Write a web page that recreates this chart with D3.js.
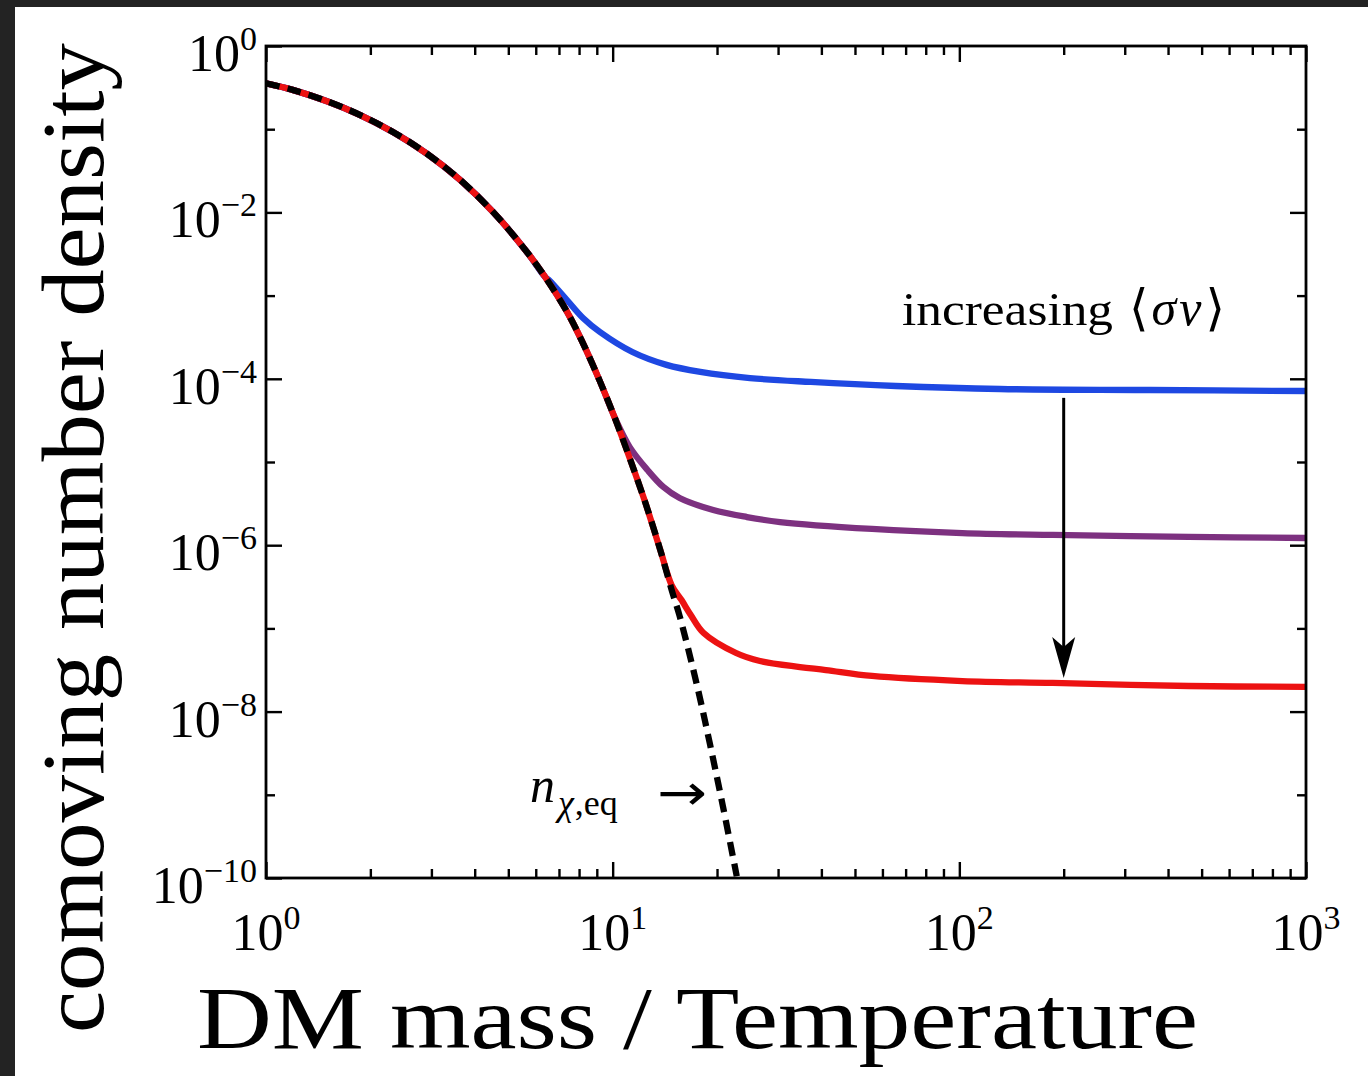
<!DOCTYPE html>
<html>
<head>
<meta charset="utf-8">
<script src="https://cdn.jsdelivr.net/npm/d3@7"></script>
<style>
  body { margin: 0; background: #ffffff; }
  svg { display: block; }
</style>
</head>
<body>
<svg id="chart" width="1368" height="1076"></svg>
<script>
// Equilibrium comoving number density n_eq versus m/T
const eqX = [1.00, 1.20, 1.50, 1.87, 2.33, 2.91, 3.63, 4.53, 5.65, 6.38, 7.38, 8.15, 9.19,
             10.15, 11.2, 12.4, 13.7, 14.8, 15.6, 17.5, 19.1, 20.8, 22.8];
const eqY = [0.356, 0.295, 0.217, 0.148, 0.0920, 0.0509, 0.0246, 0.0100, 0.00337, 1.68e-3,
             6.41e-4, 2.85e-4, 9.31e-5, 3.36e-5, 1.11e-5, 3.32e-6, 8.93e-7, 2.88e-7, 1.41e-7,
             2.09e-8, 4.0e-9, 7.26e-10, 1.05e-10];

// Freeze-out branches (each follows n_eq until it leaves it)
const blueX = [6.59, 7.38, 8.21, 9.19, 11.4, 14.3, 17.9, 24.9, 37.3, 65.6, 131, 355, 1000];
const blueY = [1.50e-3, 8.85e-4, 5.38e-4, 3.65e-4, 2.10e-4, 1.47e-4, 1.21e-4, 1.02e-4,
               9.16e-5, 8.19e-5, 7.54e-5, 7.33e-5, 7.13e-5];

const purpleX = [10.15, 11.2, 12.6, 14.0, 15.6, 19.5, 24.4, 30.4, 56.0, 102, 186, 459, 1000];
const purpleY = [3.38e-5, 1.51e-5, 8.02e-6, 5.01e-6, 3.69e-6, 2.65e-6, 2.18e-6, 1.90e-6,
                 1.57e-6, 1.40e-6, 1.33e-6, 1.26e-6, 1.22e-6];

const redX = [14.8, 15.8, 16.8, 18.3, 22.7, 26.6, 34.7, 41.2, 56.0, 102, 186, 459, 1000];
const redY = [3.3e-7, 2.19e-7, 1.45e-7, 8.80e-8, 5.06e-8, 4.05e-8, 3.43e-8, 3.16e-8,
              2.68e-8, 2.33e-8, 2.21e-8, 2.03e-8, 1.98e-8];

// Axis ticks
const xMajorTicks = [1, 10, 100, 1000];
const xTickExponents = ["0", "1", "2", "3"];
const yLabelTicks = [1, 1e-2, 1e-4, 1e-6, 1e-8, 1e-10];
const yTickExponents = ["0", "\u22122", "\u22124", "\u22126", "\u22128", "\u221210"];
const yOddTicks = [1e-1, 1e-3, 1e-5, 1e-7, 1e-9];

// "increasing <σv>" arrow: x position and its start / end values
const arrowX = 200;
const arrowFrom = 5.9e-5;
const arrowTo = 2.53e-8;

const svg = d3.select("#chart");
const W = 1368, H = 1076;
const plotL = 266, plotR = 1306, plotT = 46, plotB = 878;

// dark frame strips on the top and left edges
svg.append("rect").attr("x", 0).attr("y", 0).attr("width", W).attr("height", 7).attr("fill", "#232323");
svg.append("rect").attr("x", 0).attr("y", 0).attr("width", 15).attr("height", H).attr("fill", "#232323");

const x = d3.scaleLog().domain([1, 1000]).range([plotL, plotR]);
const y = d3.scaleLog().domain([1e-10, 1]).range([plotB, plotT]);

const xMinorTicks = [];
[1, 10, 100].forEach(d => { for (let k = 2; k <= 9; k++) xMinorTicks.push(k * d); });

svg.append("defs").append("clipPath").attr("id", "plotClip")
  .append("rect").attr("x", plotL).attr("y", plotT).attr("width", plotR - plotL).attr("height", plotB - plotT);

// curves
const line = d3.line().x(d => x(d[0])).y(d => y(d[1])).curve(d3.curveCatmullRom.alpha(0.5));
const eqPts = eqX.map((v, i) => [v, eqY[i]]);
function branch(xs, ys) {
  const head = eqPts.filter(p => p[0] < xs[0]);
  return head.concat(xs.map((v, i) => [v, ys[i]]));
}
const curves = svg.append("g").attr("clip-path", "url(#plotClip)");
[[blueX, blueY, "#1e48e2"], [purpleX, purpleY, "#7d3180"], [redX, redY, "#ec1212"]].forEach(([xs, ys, c]) => {
  curves.append("path").datum(branch(xs, ys))
    .attr("d", line).attr("fill", "none").attr("stroke", c).attr("stroke-width", 6.3)
    .attr("stroke-linejoin", "round").attr("stroke-linecap", "butt");
});
curves.append("path").datum(eqPts)
  .attr("d", line).attr("fill", "none").attr("stroke", "#000").attr("stroke-width", 6.3)
  .attr("stroke-dasharray", "14,8");

// axes with inward ticks on all four sides
function styleAxis(g) {
  g.select(".domain").remove();
  g.selectAll(".tick line").attr("stroke", "#000").attr("stroke-width", 2.4);
  g.selectAll("text").remove();
}
const axes = svg.append("g");
axes.append("g").attr("transform", `translate(0,${plotB})`)
  .call(d3.axisBottom(x).tickValues(xMajorTicks).tickSize(-16).tickFormat("")).call(styleAxis);
axes.append("g").attr("transform", `translate(0,${plotB})`)
  .call(d3.axisBottom(x).tickValues(xMinorTicks).tickSize(-9).tickFormat("")).call(styleAxis);
axes.append("g").attr("transform", `translate(0,${plotT})`)
  .call(d3.axisTop(x).tickValues(xMajorTicks).tickSize(-16).tickFormat("")).call(styleAxis);
axes.append("g").attr("transform", `translate(0,${plotT})`)
  .call(d3.axisTop(x).tickValues(xMinorTicks).tickSize(-9).tickFormat("")).call(styleAxis);
axes.append("g").attr("transform", `translate(${plotL},0)`)
  .call(d3.axisLeft(y).tickValues(yLabelTicks).tickSize(-16).tickFormat("")).call(styleAxis);
axes.append("g").attr("transform", `translate(${plotL},0)`)
  .call(d3.axisLeft(y).tickValues(yOddTicks).tickSize(-9).tickFormat("")).call(styleAxis);
axes.append("g").attr("transform", `translate(${plotR},0)`)
  .call(d3.axisRight(y).tickValues(yLabelTicks).tickSize(-16).tickFormat("")).call(styleAxis);
axes.append("g").attr("transform", `translate(${plotR},0)`)
  .call(d3.axisRight(y).tickValues(yOddTicks).tickSize(-9).tickFormat("")).call(styleAxis);
axes.append("rect").attr("x", plotL).attr("y", plotT).attr("width", plotR - plotL).attr("height", plotB - plotT)
  .attr("fill", "none").attr("stroke", "#000").attr("stroke-width", 2.8);

// tick labels as 10^n
const tickFont = "'Liberation Serif', 'DejaVu Serif', serif";
xMajorTicks.forEach((v, i) => {
  const t = svg.append("text").attr("x", x(v)).attr("y", plotB + 72)
    .attr("text-anchor", "middle").attr("font-family", tickFont).attr("font-size", 52).attr("fill", "#000");
  t.append("tspan").text("10");
  t.append("tspan").attr("dy", -21).attr("font-size", 34).text(xTickExponents[i]);
});
yLabelTicks.forEach((v, i) => {
  const t = svg.append("text").attr("x", 257).attr("y", y(v) + 25)
    .attr("text-anchor", "end").attr("font-family", tickFont).attr("font-size", 52).attr("fill", "#000");
  t.append("tspan").text("10");
  t.append("tspan").attr("dy", -21).attr("font-size", 34).text(yTickExponents[i]);
});

// axis titles
const titleFont = "'Liberation Serif', 'DejaVu Serif', serif";
svg.append("text").attr("x", 197).attr("y", 1048)
  .attr("font-family", titleFont).attr("font-size", 88).attr("fill", "#000")
  .attr("textLength", 1001).attr("lengthAdjust", "spacingAndGlyphs")
  .text("DM mass / Temperature");
svg.append("text").attr("transform", "translate(103,1033) rotate(-90)")
  .attr("font-family", titleFont).attr("font-size", 88).attr("fill", "#000")
  .attr("textLength", 990).attr("lengthAdjust", "spacingAndGlyphs")
  .text("comoving number density");

// annotations
svg.append("text").attr("x", 902).attr("y", 325)
  .attr("font-family", tickFont).attr("font-size", 46).attr("fill", "#000")
  .attr("textLength", 211).attr("lengthAdjust", "spacingAndGlyphs").text("increasing");
const sv = svg.append("text").attr("x", 1129).attr("y", 325)
  .attr("font-family", tickFont).attr("font-size", 50).attr("fill", "#000");
sv.append("tspan").text("\u27E8");
sv.append("tspan").attr("font-style", "italic").attr("dx", 3).attr("letter-spacing", 3).text("\u03C3v");
sv.append("tspan").attr("dx", 1).text("\u27E9");

const ne = svg.append("text").attr("x", 530).attr("y", 802)
  .attr("font-family", tickFont).attr("font-size", 50).attr("fill", "#000");
ne.append("tspan").attr("font-style", "italic").text("n");
ne.append("tspan").attr("dy", 13).attr("dx", 3).attr("font-size", 36).attr("font-style", "italic").text("\u03C7");
ne.append("tspan").attr("font-size", 36).attr("dx", 1).text(",eq");
svg.append("text").attr("x", 657).attr("y", 810)
  .attr("font-family", "'DejaVu Sans', sans-serif").attr("font-size", 50).attr("fill", "#000")
  .attr("textLength", 50).attr("lengthAdjust", "spacingAndGlyphs").text("\u2192");

// vertical arrow
const ax = x(arrowX), ay0 = y(arrowFrom), ay1 = y(arrowTo);
svg.append("line").attr("x1", ax).attr("x2", ax).attr("y1", ay0).attr("y2", ay1 - 30)
  .attr("stroke", "#000").attr("stroke-width", 3);
svg.append("path")
  .attr("d", `M${ax},${ay1} L${ax - 11.5},${ay1 - 41} L${ax},${ay1 - 31} L${ax + 11.5},${ay1 - 41} Z`)
  .attr("fill", "#000");
</script>
</body>
</html>
